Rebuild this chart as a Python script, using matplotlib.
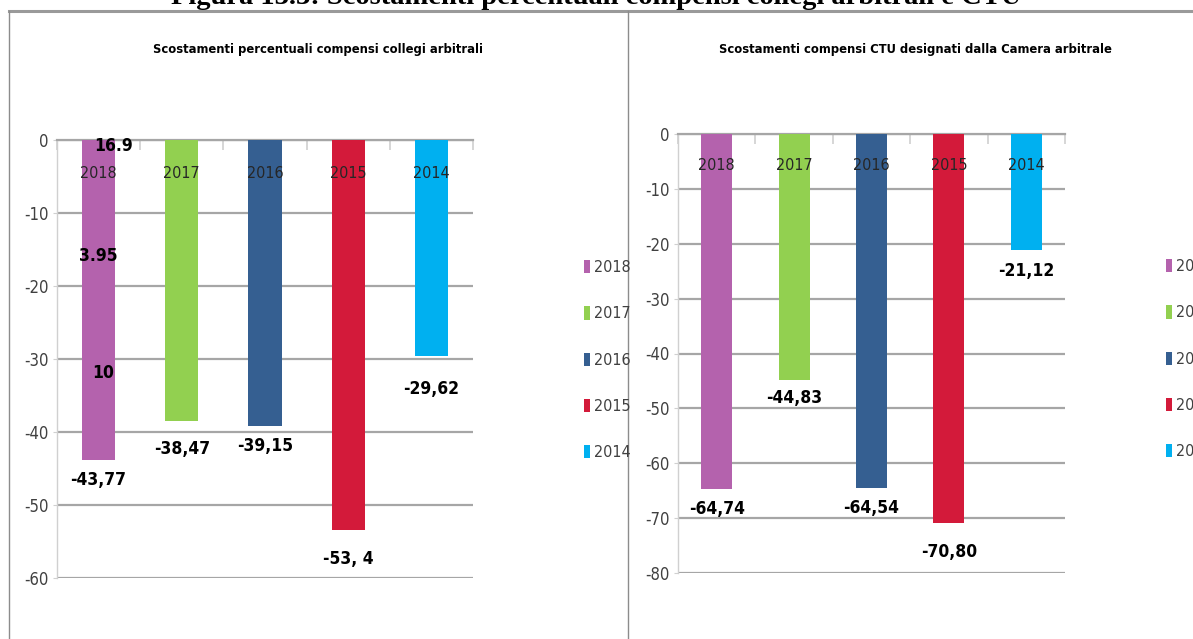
import matplotlib
matplotlib.use('Agg')
import matplotlib.pyplot as plt
import matplotlib.font_manager as fm
from matplotlib.patches import Patch
from matplotlib.lines import Line2D

# Data
years = ['2018', '2017', '2016', '2015', '2014']
colors = ['#B462AD', '#92D050', '#355F91', '#D31A3A', '#00B0F0']

arb_values = [-43.77, -38.47, -39.15, -53.4, -29.62]
arb_labels = ['-43,77', '-38,47', '-39,15', '-53, 4', '-29,62']
arb_pads = [20, 28, 20, 29, 33]
# stray labels sitting on the 2018 bar
stray_text = ['16.9', '3.95', '10']
stray_x = [0.18, 0.0, 0.06]
stray_y = [-0.8, -15.9, -31.9]

ctu_values = [-64.74, -44.83, -64.54, -70.80, -21.12]
ctu_labels = ['-64,74', '-44,83', '-64,54', '-70,80', '-21,12']
ctu_pads = [20, 18, 20, 29, 21]

plt.rcParams['axes.unicode_minus'] = False


def find_narrow(bold):
    best = None
    for f in fm.fontManager.ttflist:
        narrow = ('Narrow' in f.name or 'Condensed' in f.name
                  or f.stretch in ('condensed', 'semi-condensed', 'extra-condensed'))
        if not narrow or f.style != 'normal':
            continue
        w = f.weight if isinstance(f.weight, int) else (700 if f.weight == 'bold' else 400)
        if (w >= 600) == bold:
            best = f.fname
            if 'Sans' in f.name:
                break
    return best


reg_file = find_narrow(False)
bold_file = find_narrow(True)
if reg_file:
    FP = fm.FontProperties(fname=reg_file)
    SCALE = 1.0
else:
    FP = fm.FontProperties(family='Roboto')
    SCALE = 0.85
if bold_file:
    FPB = fm.FontProperties(fname=bold_file)
elif reg_file:
    FPB = fm.FontProperties(fname=reg_file, weight='bold')
else:
    FPB = fm.FontProperties(family='Roboto', weight='bold')


def fp(base, size):
    p = base.copy()
    p.set_size(size * SCALE)
    return p


GRID = '#A6A6A6'
TXT = '#404040'

W, H = 1193, 639
fig = plt.figure(figsize=(W / 100, H / 100), dpi=100)


def box(x0, y0, x1, y1):
    # pixel box (top-left origin) -> figure rect
    return [x0 / W, 1 - y1 / H, (x1 - x0) / W, (y1 - y0) / H]


def draw_panel(rect, values, labels, pads, ymin, title, title_xy, year_off, legend_xy):
    ax = fig.add_axes(rect)
    x = range(len(years))
    ax.bar(x, values, width=0.4, color=colors, zorder=3)
    ax.set_xlim(-0.5, len(years) - 0.5)
    ax.set_ylim(ymin, 0)
    ax.set_yticks(range(ymin, 1, 10))
    ax.yaxis.grid(True, color=GRID, linewidth=1.6, zorder=1)
    for s in ['right', 'bottom']:
        ax.spines[s].set_visible(False)
    ax.spines['top'].set_color(GRID)
    ax.spines['top'].set_linewidth(1.6)
    ax.spines['left'].set_color('#D0D0D0')
    ax.spines['left'].set_linewidth(1.0)
    ax.xaxis.tick_top()
    ax.set_xticks([i + 0.5 for i in range(-1, len(years))])
    ax.set_xticklabels([])
    ax.tick_params(axis='x', direction='in', length=7, color='#D0D0D0', width=1.2)
    ax.tick_params(axis='y', length=3, color='#D0D0D0', labelcolor=TXT, pad=3)
    for t in ax.get_yticklabels():
        t.set_fontproperties(fp(FP, 12))

    for i, (v, lab, p) in enumerate(zip(values, labels, pads)):
        ax.annotate(years[i], (i, 0), xytext=(0, -year_off), textcoords='offset pixels',
                    ha='center', va='center', fontproperties=fp(FP, 11.5), color='#262626', zorder=4)
        ax.annotate(lab, (i, v), xytext=(0, -p), textcoords='offset pixels',
                    ha='center', va='center', fontproperties=fp(FPB, 12.5), color='black', zorder=4)

    fig.text(title_xy[0] / W, 1 - title_xy[1] / H, title, ha='center', va='center',
             fontproperties=fp(FPB, 9.3), color='black')

    handles = [Patch(facecolor=c, edgecolor='none') for c in colors]
    leg = fig.legend(handles, years, loc='upper left',
                     bbox_to_anchor=(legend_xy[0] / W, 1 - legend_xy[1] / H),
                     frameon=False, prop=fp(FP, 11.5), handlelength=0.36, handleheight=0.9,
                     handletextpad=0.25, labelspacing=1.95, borderpad=0, borderaxespad=0)
    for t in leg.get_texts():
        t.set_color(TXT)
    return ax


ax1 = draw_panel(box(57, 140, 473, 578), arb_values, arb_labels, arb_pads, -60,
                 'Scostamenti percentuali compensi collegi arbitrali', (318, 50), 33, (584, 260))
for t, sx, sy in zip(stray_text, stray_x, stray_y):
    ax1.text(sx, sy, t, ha='center', va='center', fontproperties=fp(FPB, 12.5),
             color='black', zorder=5)

draw_panel(box(678, 134, 1065, 573), ctu_values, ctu_labels, ctu_pads, -80,
           'Scostamenti compensi CTU designati dalla Camera arbitrale', (915, 50), 31, (1166, 259))

# document frame lines
fig.add_artist(Line2D([9 / W, 1], [1 - 11 / H, 1 - 11 / H], color='#9A9A9A', linewidth=2.2))
fig.add_artist(Line2D([9 / W, 9 / W], [0, 1 - 11 / H], color='#8C8C8C', linewidth=1.0))
fig.add_artist(Line2D([628 / W, 628 / W], [0, 1 - 11 / H], color='#8C8C8C', linewidth=1.0))

# caption, cut off at the top of the page
fig.text(0.5, 1 - 4 / H, 'Figura 13.3: Scostamenti percentuali compensi collegi arbitrali e CTU',
         ha='center', va='baseline', fontsize=20.5, fontweight='bold',
         family='Liberation Serif', color='black')

fig.savefig('out.png', dpi=100)
